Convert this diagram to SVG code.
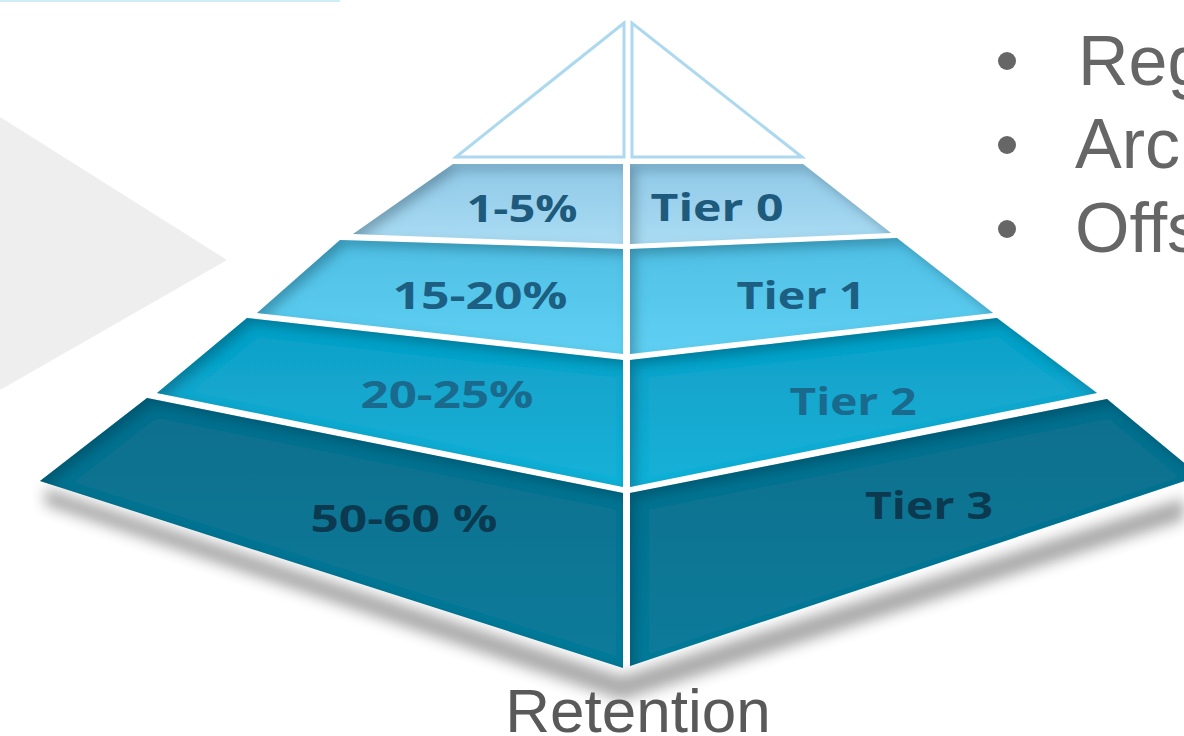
<svg xmlns="http://www.w3.org/2000/svg" width="1184" height="736" viewBox="0 0 1184 736">
<style>
.lbl{font-family:"Open Sans","DejaVu Sans",sans-serif;font-weight:700;font-size:37px;text-anchor:middle}
.t0{fill:#1d5a7c}.t1{fill:#1c5f82}.t2{fill:#1a6a8e}.t3{fill:#0b3a50}
.bul{font-family:"Liberation Sans",Arial,sans-serif;font-size:70px;fill:#666}
.apex{fill:#fff;stroke:#acd9ef;stroke-width:3;stroke-linejoin:miter}
</style>
<defs>
<filter id="inset" x="-10%" y="-10%" width="120%" height="120%">
<feComponentTransfer in="SourceAlpha"><feFuncA type="table" tableValues="1 0"/></feComponentTransfer>
<feGaussianBlur stdDeviation="6"/>
<feOffset dx="6" dy="6" result="ob"/>
<feFlood flood-color="#0a3448" flood-opacity="0.5"/>
<feComposite in2="ob" operator="in"/>
<feComposite in2="SourceAlpha" operator="in" result="sh"/>
<feMerge><feMergeNode in="SourceGraphic"/><feMergeNode in="sh"/></feMerge>
</filter>
<filter id="blur" x="-20%" y="-50%" width="140%" height="200%"><feGaussianBlur stdDeviation="7"/></filter>
<linearGradient id="g0" x1="0" y1="0" x2="0" y2="1"><stop offset="0" stop-color="#8fc8e6"/><stop offset="1" stop-color="#aadcf4"/></linearGradient>
<linearGradient id="g1" x1="0" y1="0" x2="0" y2="1"><stop offset="0" stop-color="#4fbfe4"/><stop offset="1" stop-color="#5fd0f3"/></linearGradient>
<linearGradient id="g2" x1="0" y1="0" x2="0" y2="1"><stop offset="0" stop-color="#0f9fc6"/><stop offset="1" stop-color="#17b1d8"/></linearGradient>
<linearGradient id="g3" x1="0" y1="0" x2="0" y2="1"><stop offset="0" stop-color="#086f8d"/><stop offset="1" stop-color="#0a7b9a"/></linearGradient>
</defs>
<rect width="1184" height="736" fill="#fff"/>
<polygon points="0,117 227,260 0,390" fill="#eeeeee"/>
<rect x="0" y="0" width="340" height="2" fill="#9fdcf2" opacity="0.5"/>

<g id="bullets">
<circle cx="1007" cy="61" r="9" fill="#666"/>
<text class="bul" x="1078" y="85">Reg</text>
<circle cx="1007" cy="145" r="9" fill="#666"/>
<text class="bul" x="1075" y="168">Arch</text>
<circle cx="1007" cy="229" r="9" fill="#666"/>
<text class="bul" x="1075" y="252">Offs</text>
</g>

<g id="shadow">
<polygon points="45,488 622,676 1184,498 1184,520 622,700 45,505" fill="#444" opacity="0.45" filter="url(#blur)"/>
</g>

<g id="apex">
<polygon class="apex" points="624,23 456,157 624,157"/>
<polygon class="apex" points="632,23 632,157 802,157"/>
</g>

<g id="tier0">
<polygon points="453,164 623,164 623,244 353,234" fill="url(#g0)" filter="url(#inset)"/>
<polygon points="630,164 803,164 891,233 630,244" fill="url(#g0)" filter="url(#inset)"/>
<text class="lbl t0" x="522" y="222" textLength="111" lengthAdjust="spacingAndGlyphs">1-5%</text>
<text class="lbl t0" x="717" y="221" textLength="133" lengthAdjust="spacingAndGlyphs">Tier 0</text>
</g>

<g id="tier1">
<polygon points="340,240 623,249 623,354 257,313" fill="url(#g1)" filter="url(#inset)"/>
<polygon points="630,249 897,238 993,313 630,354" fill="url(#g1)" filter="url(#inset)"/>
<text class="lbl t1" x="480" y="309" textLength="175" lengthAdjust="spacingAndGlyphs">15-20%</text>
<text class="lbl t1" x="801" y="309" textLength="129" lengthAdjust="spacingAndGlyphs">Tier 1</text>
</g>

<g id="tier2">
<polygon points="247,318 623,360 623,487 157,393" fill="url(#g2)" filter="url(#inset)"/>
<polygon points="630,360 997,318 1097,393 630,487" fill="url(#g2)" filter="url(#inset)"/>
<text class="lbl t2" x="447" y="408" textLength="173" lengthAdjust="spacingAndGlyphs">20-25%</text>
<text class="lbl t2" x="853" y="415" textLength="127" lengthAdjust="spacingAndGlyphs">Tier 2</text>
</g>

<g id="tier3">
<polygon points="147,398 623,493 623,668 40,481" fill="url(#g3)" filter="url(#inset)"/>
<polygon points="630,493 1107,399 1200,476 630,666" fill="url(#g3)" filter="url(#inset)"/>
<text class="lbl t3" x="404" y="532" textLength="187" lengthAdjust="spacingAndGlyphs">50-60 %</text>
<text class="lbl t3" x="929" y="519" textLength="128" lengthAdjust="spacingAndGlyphs">Tier 3</text>
</g>

<g id="connectors"/>

<g id="caption">
<text x="638" y="732" text-anchor="middle" font-family="Liberation Sans, Arial, sans-serif" font-size="62" fill="#595959">Retention</text>
</g>
</svg>
